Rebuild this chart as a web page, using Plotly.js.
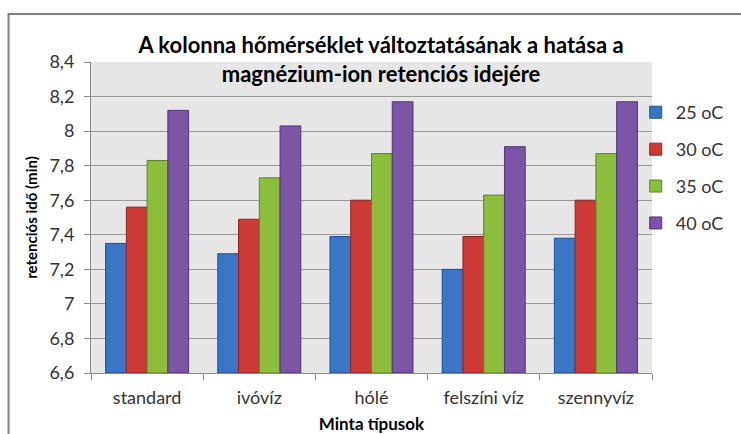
<!DOCTYPE html>
<html>
<head>
<meta charset="utf-8">
<script src="https://cdn.plot.ly/plotly-3.0.1.min.js"></script>
<style>
html,body{margin:0;padding:0;background:#fff;}
#chart{width:741px;height:434px;}
</style>
</head>
<body>
<div id="chart"></div>
<script>
const categories = ["standard", "ivóvíz", "hólé", "felszíni víz", "szennyvíz"];
const seriesNames = ["25 oC", "30 oC", "35 oC", "40 oC"];
const v25 = [7.35, 7.29, 7.39, 7.20, 7.38];
const v30 = [7.56, 7.49, 7.60, 7.39, 7.60];
const v35 = [7.83, 7.73, 7.87, 7.63, 7.87];
const v40 = [8.12, 8.03, 8.17, 7.91, 8.17];
const yTicks = [6.6, 6.8, 7, 7.2, 7.4, 7.6, 7.8, 8, 8.2, 8.4];

const colors = ["#3b76c4", "#cd3a36", "#8dbd3c", "#7a55a6"];
const edges = ["#24508c", "#8e2422", "#5f8526", "#4f3575"];
const allVals = [v25, v30, v35, v40];
const fontFam = "Lato, 'Open Sans', sans-serif";

const traces = allVals.map((vals, i) => ({
  type: "bar",
  name: seriesNames[i],
  x: categories,
  y: vals.map(v => v - 6.6),
  base: 6.6,
  legendgroup: "g" + i,
  marker: {color: colors[i], line: {color: edges[i], width: 1}},
  hoverinfo: "skip"
}));

const layout = {
  width: 741, height: 434,
  margin: {l: 91, r: 85, t: 62, b: 61},
  paper_bgcolor: "#ffffff",
  plot_bgcolor: "#e6e6e6",
  separators: ", ",
  barmode: "group",
  bargap: 0.26,
  bargroupgap: 0,
  font: {family: fontFam, size: 18, color: "#333333"},
  title: {
    text: "<b>A kolonna hőmérséklet változtatásának a hatása a<br>magnézium-ion retenciós idejére</b>",
    font: {family: fontFam, size: 22, color: "#000000"},
    x: 0.517, xref: "paper", xanchor: "center",
    y: 0.877, yref: "container", yanchor: "top"
  },
  xaxis: {
    type: "category",
    tickson: "boundaries",
    ticks: "outside", ticklen: 6, tickcolor: "#888888",
    showline: true, linecolor: "#888888", linewidth: 1,
    showgrid: false,
    ticklabelstandoff: 8,
    tickfont: {family: fontFam, size: 18, color: "#333333"},
    title: {text: "<b>Minta típusok</b>", font: {family: fontFam, size: 17, color: "#000000"}, standoff: 11}
  },
  yaxis: {
    range: [6.6, 8.4],
    tickvals: yTicks,
    ticks: "outside", ticklen: 6, tickcolor: "#888888",
    showline: true, linecolor: "#888888", linewidth: 1,
    showgrid: true, gridcolor: "#9a9a9a", gridwidth: 1,
    zeroline: false,
    ticklabelstandoff: 6,
    tickfont: {family: fontFam, size: 18, color: "#333333"},
    title: {text: "<b>retenciós idő (min)</b>", font: {family: fontFam, size: 15, color: "#000000"}, standoff: 8}
  },
  legend: {
    x: 0.971, xanchor: "left", y: 0.897, yanchor: "top",
    bgcolor: "rgba(0,0,0,0)",
    font: {family: fontFam, size: 18, color: "#333333"},
    tracegroupgap: 10.5,
    itemwidth: 30
  },
  shapes: [{
    type: "path", xref: "paper", yref: "paper",
    path: "M -0.147,-0.3 L -0.147,1.154 L 1.5,1.154",
    line: {color: "#7f7f7f", width: 2}
  }]
};

Plotly.newPlot("chart", traces, layout, {displayModeBar: false, staticPlot: true});
</script>
</body>
</html>
